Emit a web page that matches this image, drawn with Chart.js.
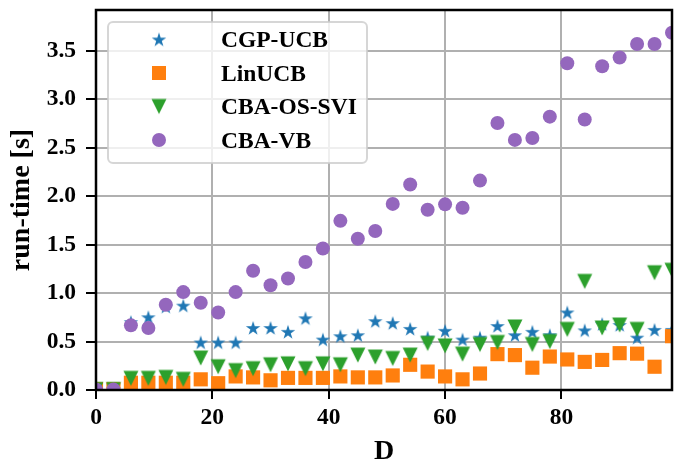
<!DOCTYPE html>
<html>
<head>
<meta charset="utf-8">
<script src="https://cdn.jsdelivr.net/npm/chart.js@4"></script>
<style>
  html, body { margin: 0; padding: 0; background: #fff; }
</style>
</head>
<body>
<canvas id="runtime-chart" width="686" height="466"></canvas>
<script>
// D values on the x axis
var dValues = [0, 3, 6, 9, 12, 15, 18, 21, 24, 27, 30, 33, 36, 39, 42, 45, 48,
               51, 54, 57, 60, 63, 66, 69, 72, 75, 78, 81, 84, 87, 90, 93, 96, 99];

// run-time [s] per method
var cgpUcb = [0.01, 0.01, 0.70, 0.75, 0.86, 0.87, 0.49, 0.49, 0.49, 0.64, 0.64, 0.60,
              0.74, 0.52, 0.555, 0.565, 0.71, 0.69, 0.63, 0.54, 0.61, 0.52, 0.54, 0.66,
              0.565, 0.60, 0.565, 0.80, 0.615, 0.68, 0.67, 0.54, 0.62, 0.62];
var linUcb = [0.01, 0.01, 0.075, 0.075, 0.075, 0.075, 0.11, 0.07, 0.14, 0.13, 0.10, 0.125,
              0.125, 0.125, 0.14, 0.13, 0.13, 0.15, 0.26, 0.19, 0.14, 0.11, 0.17, 0.37,
              0.36, 0.23, 0.345, 0.315, 0.29, 0.31, 0.38, 0.375, 0.24, 0.555];
var cbaOsSvi = [0.005, 0.005, 0.12, 0.12, 0.13, 0.11, 0.33, 0.24, 0.20, 0.22, 0.26, 0.27,
                0.22, 0.27, 0.26, 0.36, 0.34, 0.325, 0.36, 0.48, 0.455, 0.37, 0.47, 0.49,
                0.65, 0.47, 0.50, 0.625, 1.12, 0.64, 0.67, 0.625, 1.21, 1.235];
var cbaVb = [0.005, 0.005, 0.667, 0.64, 0.88, 1.01, 0.90, 0.80, 1.01, 1.23, 1.08, 1.15,
             1.32, 1.46, 1.745, 1.56, 1.64, 1.92, 2.12, 1.86, 1.915, 1.88, 2.16, 2.755,
             2.58, 2.60, 2.82, 3.37, 2.79, 3.34, 3.43, 3.57, 3.57, 3.685];

var seriesNames = ['CGP-UCB', 'LinUCB', 'CBA-OS-SVI', 'CBA-VB'];
var xTicks = [0, 20, 40, 60, 80];
var yTicks = [0, 0.5, 1.0, 1.5, 2.0, 2.5, 3.0, 3.5];

var FONT = '"Liberation Serif", "Times New Roman", serif';
var colors = ['#1f77b4', '#ff7f0e', '#2ca02c', '#9467bd'];

// matplotlib-like markers
function starMarker(color){
    var c = document.createElement('canvas');
    c.width = 18; c.height = 18;
    var g = c.getContext('2d');
    g.fillStyle = color;
    g.beginPath();
    for(var i = 0; i < 10; i++){
        var r = (i % 2 === 0) ? 7.6 : 7.6 * 0.382;
        var a = -Math.PI / 2 + i * Math.PI / 5;
        var px = 9 + r * Math.cos(a), py = 9.6 + r * Math.sin(a);
        if(i === 0) g.moveTo(px, py); else g.lineTo(px, py);
    }
    g.closePath();
    g.fill();
    return c;
}
function triangleMarker(color){
    var c = document.createElement('canvas');
    c.width = 18; c.height = 18;
    var g = c.getContext('2d');
    g.fillStyle = color;
    g.beginPath();
    g.moveTo(1.5, 1.5);
    g.lineTo(16.5, 1.5);
    g.lineTo(9, 16.5);
    g.closePath();
    g.fill();
    return c;
}
var starImg = starMarker(colors[0]);
var triImg = triangleMarker(colors[2]);

function toPoints(ys){
    return dValues.map(function(d, i){ return {x: d, y: ys[i]}; });
}

var legendBox = {
    id: 'legendBox',
    afterDatasetsDraw: function(chart){
        var ctx = chart.ctx;
        var x = 108, y = 22, w = 259, h = 141;
        ctx.save();
        ctx.beginPath();
        ctx.roundRect(x, y, w, h, 5);
        ctx.fillStyle = 'rgba(255,255,255,0.8)';
        ctx.fill();
        ctx.lineWidth = 2;
        ctx.strokeStyle = 'rgba(204,204,204,0.8)';
        ctx.stroke();
        ctx.font = 'bold 23.5px ' + FONT;
        ctx.textBaseline = 'alphabetic';
        for(var i = 0; i < seriesNames.length; i++){
            var cy = 39.5 + i * 33.5, cx = 159;
            if(i === 0) ctx.drawImage(starImg, cx - 9, cy - 9);
            if(i === 1){ ctx.fillStyle = colors[1]; ctx.fillRect(cx - 7, cy - 7, 14, 14); }
            if(i === 2) ctx.drawImage(triImg, cx - 9, cy - 9);
            if(i === 3){ ctx.fillStyle = colors[3]; ctx.beginPath(); ctx.arc(cx, cy, 7, 0, Math.PI * 2); ctx.fill(); }
            ctx.fillStyle = '#000';
            ctx.fillText(seriesNames[i], 221, cy + 7.6);
        }
        ctx.restore();
    }
};

var frame = {
    id: 'frame',
    afterDraw: function(chart){
        var a = chart.chartArea, ctx = chart.ctx;
        ctx.save();
        ctx.lineWidth = 2.5;
        ctx.strokeStyle = '#000';
        ctx.strokeRect(a.left, a.top, a.right - a.left, a.bottom - a.top);
        ctx.restore();
    }
};

var tickFont = {family: FONT, size: 23.5, weight: 'bold'};
var titleFont = {family: FONT, size: 28, weight: 'bold', lineHeight: 1};

var ctx = document.getElementById('runtime-chart').getContext('2d');
var runtimeChart = new Chart(ctx, {
    type: 'scatter',
    data: {
        datasets: [
            {label: seriesNames[0], data: toPoints(cgpUcb), pointStyle: starImg, pointRadius: 7,
             backgroundColor: colors[0], borderWidth: 0, order: 3, clip: 0},
            {label: seriesNames[1], data: toPoints(linUcb), pointStyle: 'rect', pointRadius: 10,
             backgroundColor: colors[1], borderWidth: 0, order: 2, clip: 0},
            {label: seriesNames[2], data: toPoints(cbaOsSvi), pointStyle: triImg, pointRadius: 8,
             backgroundColor: colors[2], borderWidth: 0, order: 1, clip: 0},
            {label: seriesNames[3], data: toPoints(cbaVb), pointStyle: 'circle', pointRadius: 7,
             backgroundColor: colors[3], borderWidth: 0, order: 0, clip: 0}
        ]
    },
    options: {
        responsive: false,
        animation: false,
        devicePixelRatio: 1,
        layout: {padding: {left: 0, right: 14, top: 8, bottom: 0}},
        plugins: {legend: {display: false}, tooltip: {enabled: false}},
        scales: {
            x: {
                type: 'linear', min: 0, max: 99,
                afterBuildTicks: function(s){ s.ticks = xTicks.map(function(v){ return {value: v}; }); },
                afterFit: function(s){ s.height = 76; s.paddingLeft = 0; s.paddingRight = 0; },
                grid: {color: '#b0b0b0', lineWidth: 2, tickColor: '#000', tickLength: 9, tickWidth: 2},
                border: {display: false},
                ticks: {color: '#000', font: tickFont, padding: 5, maxRotation: 0, autoSkip: false},
                title: {display: true, text: 'D', color: '#000', font: titleFont, padding: {top: 0, bottom: 0}}
            },
            y: {
                type: 'linear', min: 0, max: 3.92,
                afterBuildTicks: function(s){ s.ticks = yTicks.map(function(v){ return {value: v}; }); },
                afterFit: function(s){ s.width = 96; s.paddingTop = 0; s.paddingBottom = 0; },
                grid: {color: '#b0b0b0', lineWidth: 2, tickColor: '#000', tickLength: 10, tickWidth: 2},
                border: {display: false},
                ticks: {color: '#000', font: tickFont, padding: 10, autoSkip: false,
                        callback: function(v){ return v.toFixed(1); }},
                title: {display: true, text: 'run-time [s]', color: '#000', font: titleFont, padding: {top: 8, bottom: 0}}
            }
        }
    },
    plugins: [legendBox, frame]
});
</script>
</body>
</html>
